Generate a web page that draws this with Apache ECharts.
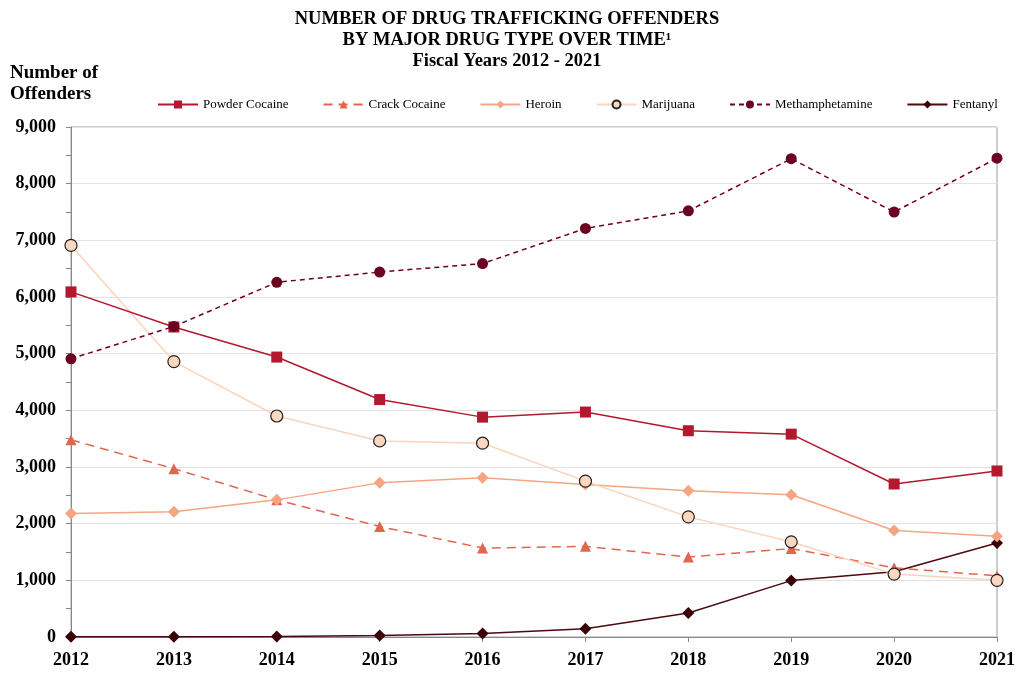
<!DOCTYPE html>
<html><head><meta charset="utf-8">
<script src="https://cdn.jsdelivr.net/npm/echarts@6/dist/echarts.min.js"></script>
<style>html,body{margin:0;padding:0;background:#fff}#c{width:1024px;height:681px}</style>
</head><body><div id="c"></div>
<script>
const years = ['2012','2013','2014','2015','2016','2017','2018','2019','2020','2021'];
const powderCocaine = [6090, 5470, 4940, 4190, 3880, 3970, 3640, 3580, 2700, 2930];
const crackCocaine = [3480, 2970, 2420, 1950, 1570, 1600, 1410, 1560, 1220, 1080];
const heroin = [2180, 2210, 2420, 2720, 2810, 2690, 2580, 2510, 1880, 1780];
const marijuana = [6910, 4860, 3900, 3460, 3420, 2750, 2120, 1680, 1110, 1000];
const methamphetamine = [4910, 5480, 6260, 6440, 6590, 7210, 7520, 8440, 7500, 8450];
const fentanyl = [5, 5, 10, 25, 60, 145, 425, 995, 1150, 1660];
const yTicks = [0, 1000, 2000, 3000, 4000, 5000, 6000, 7000, 8000, 9000];

const font = 'Liberation Serif, Times New Roman, serif';
const chart = echarts.init(document.getElementById('c'));
function s(name, data, color, symbol, size, opts) {
  return Object.assign({
    name, type: 'line', data, symbol, symbolSize: size,
    lineStyle: { color, width: 1.5 },
    itemStyle: { color },
    z: 3
  }, opts || {});
}
chart.setOption({
  animation: false,
  textStyle: { fontFamily: font },
  title: {
    text: 'NUMBER OF DRUG TRAFFICKING OFFENDERS\nBY MAJOR DRUG TYPE OVER TIME¹\nFiscal Years 2012 - 2021',
    left: 502, top: 4, textAlign: 'center',
    textStyle: { fontFamily: font, fontWeight: 'bold', fontSize: 18.5, lineHeight: 21, color: '#000' }
  },
  graphic: [{
    type: 'text', left: 10, top: 63,
    style: { text: 'Number of\nOffenders', font: 'bold 19px ' + font, lineHeight: 21, fill: '#000' }
  }],
  legend: {
    left: 152, top: 93, itemWidth: 40, itemHeight: 10, itemGap: 34,
    textStyle: { fontFamily: font, fontSize: 13, color: '#000' },
    data: ['Powder Cocaine','Crack Cocaine','Heroin','Marijuana','Methamphetamine','Fentanyl']
  },
  grid: { left: 71, right: 27, top: 127, bottom: 44, show: true, borderColor: '#a0a0a0', borderWidth: 1 },
  xAxis: {
    type: 'category', data: years, boundaryGap: false,
    axisLine: { lineStyle: { color: '#888' } },
    axisTick: { show: true, length: 5, lineStyle: { color: '#888' } },
    axisLabel: { fontFamily: font, fontWeight: 'bold', fontSize: 18, color: '#000', margin: 14 },
    splitLine: { show: false }
  },
  yAxis: {
    type: 'value', min: 0, max: 9000, interval: 1000,
    axisLine: { show: true, lineStyle: { color: '#888' } },
    axisTick: { show: true, length: 5, lineStyle: { color: '#888' } },
    minorTick: { show: true, splitNumber: 2, length: 5, lineStyle: { color: '#888' } },
    axisLabel: { fontFamily: font, fontWeight: 'bold', fontSize: 18, color: '#000', margin: 15,
      formatter: v => yTicks.includes(v) ? v.toLocaleString('en-US') : '' },
    splitLine: { lineStyle: { color: '#e2e2e2' } }
  },
  series: [
    s('Fentanyl', fentanyl, '#4a0a10', 'diamond', 12, { lineStyle: { color: '#4a0a10', width: 1.5 }, itemStyle: { color: '#3a0006' } }),
    s('Crack Cocaine', crackCocaine, '#e0674f', 'triangle', 11, { lineStyle: { color: '#e0674f', width: 1.5, type: [9, 6] } }),
    s('Heroin', heroin, '#f5a582', 'diamond', 12),
    s('Marijuana', marijuana, '#fcd3bd', 'circle', 12, { lineStyle: { color: '#fcd3bd', width: 1.5 }, itemStyle: { color: '#fdd6bf', borderColor: '#222', borderWidth: 1.2 } }),
    s('Powder Cocaine', powderCocaine, '#b3182e', 'rect', 11),
    s('Methamphetamine', methamphetamine, '#6b0020', 'circle', 11, { lineStyle: { color: '#6b0020', width: 1.5, type: [5, 4] } })
  ]
});
</script></body></html>
